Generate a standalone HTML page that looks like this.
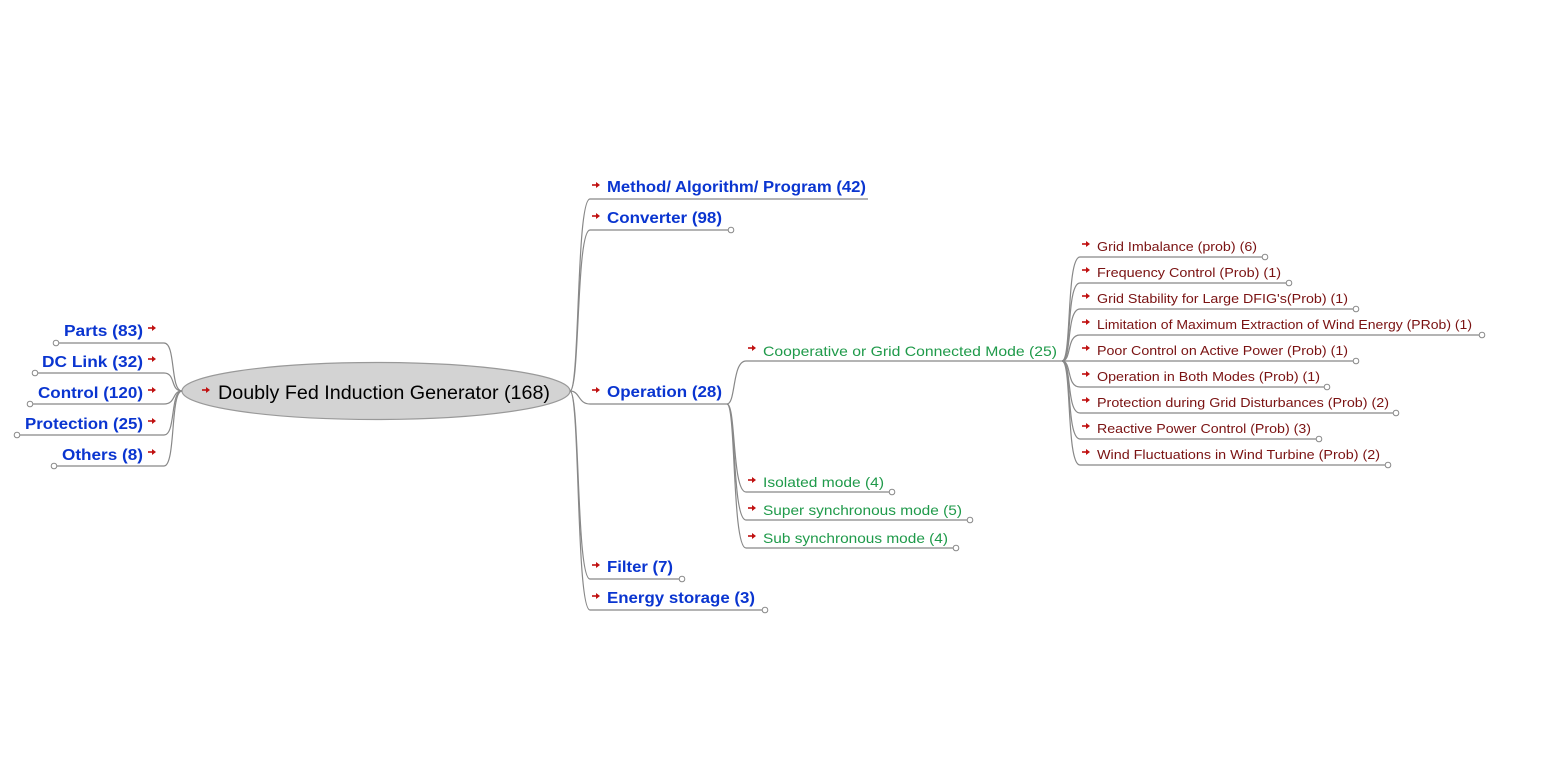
<!DOCTYPE html>
<html><head><meta charset="utf-8"><style>
html,body{margin:0;padding:0;background:#fff;}
svg{display:block;}
.b{font-family:"Liberation Sans",Arial,sans-serif;font-size:16px;font-weight:bold;fill:#0a35d0;}
.g{font-family:"Liberation Sans",Arial,sans-serif;font-size:14px;fill:#1f9a4a;}
.r{font-family:"Liberation Sans",Arial,sans-serif;font-size:13px;fill:#7a1212;}
.l{fill:none;stroke:#888;stroke-width:1.2;}
.c{fill:#fff;stroke:#888;stroke-width:1;}
</style></head><body>
<svg width="1554" height="764" viewBox="0 0 1554 764" xmlns="http://www.w3.org/2000/svg">
<defs>
<g id="ar"><path d="M0,0 H5" stroke="#c01010" stroke-width="1.6"/><path d="M4,-3 L8,0 L4,3 Z" fill="#c01010"/></g>
</defs>
<ellipse cx="376" cy="391" rx="194" ry="28.5" fill="#d3d3d3" stroke="#999" stroke-width="1.2"/>
<use href="#ar" x="202" y="390"/>
<text x="218" y="399" font-family="Liberation Sans, Arial, sans-serif" font-size="19" fill="#000" textLength="332" lengthAdjust="spacingAndGlyphs">Doubly Fed Induction Generator (168)</text>

<path class="l" d="M182,391 C170,391 176,343 164,343 L56,343"/>
<path class="l" d="M182,391 C170,391 176,373 164,373 L35,373"/>
<path class="l" d="M182,391 C172,391 176,404 164,404 L30,404"/>
<path class="l" d="M182,391 C170,391 176,435 164,435 L17,435"/>
<path class="l" d="M182,391 C170,391 176,466 164,466 L54,466"/>
<circle class="c" cx="56" cy="343" r="2.8"/>
<circle class="c" cx="35" cy="373" r="2.8"/>
<circle class="c" cx="30" cy="404" r="2.8"/>
<circle class="c" cx="17" cy="435" r="2.8"/>
<circle class="c" cx="54" cy="466" r="2.8"/>
<text class="b" x="64" y="336" textLength="79" lengthAdjust="spacingAndGlyphs">Parts (83)</text>
<text class="b" x="42" y="367" textLength="101" lengthAdjust="spacingAndGlyphs">DC Link (32)</text>
<text class="b" x="38" y="398" textLength="105" lengthAdjust="spacingAndGlyphs">Control (120)</text>
<text class="b" x="25" y="429" textLength="118" lengthAdjust="spacingAndGlyphs">Protection (25)</text>
<text class="b" x="62" y="460" textLength="81" lengthAdjust="spacingAndGlyphs">Others (8)</text>
<use href="#ar" x="148" y="328"/>
<use href="#ar" x="148" y="359"/>
<use href="#ar" x="148" y="390"/>
<use href="#ar" x="148" y="421"/>
<use href="#ar" x="148" y="452"/>

<path class="l" d="M570,391 C580,391 576,199 590,199 L868,199"/>
<path class="l" d="M570,391 C580,391 576,230 590,230 L731,230"/>
<path class="l" d="M570,391 C580,391 578,404 590,404 L727,404"/>
<path class="l" d="M570,391 C580,391 576,579 590,579 L682,579"/>
<path class="l" d="M570,391 C580,391 576,610 590,610 L765,610"/>
<circle class="c" cx="731" cy="230" r="2.8"/>
<circle class="c" cx="682" cy="579" r="2.8"/>
<circle class="c" cx="765" cy="610" r="2.8"/>
<text class="b" x="607" y="192" textLength="259" lengthAdjust="spacingAndGlyphs">Method/ Algorithm/ Program (42)</text>
<text class="b" x="607" y="223" textLength="115" lengthAdjust="spacingAndGlyphs">Converter (98)</text>
<text class="b" x="607" y="397" textLength="115" lengthAdjust="spacingAndGlyphs">Operation (28)</text>
<text class="b" x="607" y="572" textLength="66" lengthAdjust="spacingAndGlyphs">Filter (7)</text>
<text class="b" x="607" y="603" textLength="148" lengthAdjust="spacingAndGlyphs">Energy storage (3)</text>
<use href="#ar" x="592" y="185"/>
<use href="#ar" x="592" y="216"/>
<use href="#ar" x="592" y="390"/>
<use href="#ar" x="592" y="565"/>
<use href="#ar" x="592" y="596"/>

<path class="l" d="M727,404 C736,404 732,361 746,361 L1062,361"/>
<path class="l" d="M727,404 C736,404 732,492 746,492 L892,492"/>
<path class="l" d="M727,404 C736,404 732,520 746,520 L970,520"/>
<path class="l" d="M727,404 C736,404 732,548 746,548 L956,548"/>
<circle class="c" cx="892" cy="492" r="2.8"/>
<circle class="c" cx="970" cy="520" r="2.8"/>
<circle class="c" cx="956" cy="548" r="2.8"/>
<text class="g" x="763" y="356" textLength="294" lengthAdjust="spacingAndGlyphs">Cooperative or Grid Connected Mode (25)</text>
<text class="g" x="763" y="487" textLength="121" lengthAdjust="spacingAndGlyphs">Isolated mode (4)</text>
<text class="g" x="763" y="515" textLength="199" lengthAdjust="spacingAndGlyphs">Super synchronous mode (5)</text>
<text class="g" x="763" y="543" textLength="185" lengthAdjust="spacingAndGlyphs">Sub synchronous mode (4)</text>
<use href="#ar" x="748" y="348"/>
<use href="#ar" x="748" y="480"/>
<use href="#ar" x="748" y="508"/>
<use href="#ar" x="748" y="536"/>

<g>
<path class="l" d="M1062,361 C1072,361 1066,257 1080,257 L1265,257"/>
<path class="l" d="M1062,361 C1072,361 1066,283 1080,283 L1289,283"/>
<path class="l" d="M1062,361 C1072,361 1066,309 1080,309 L1356,309"/>
<path class="l" d="M1062,361 C1072,361 1066,335 1080,335 L1482,335"/>
<path class="l" d="M1062,361 L1356,361"/>
<path class="l" d="M1062,361 C1072,361 1066,387 1080,387 L1327,387"/>
<path class="l" d="M1062,361 C1072,361 1066,413 1080,413 L1396,413"/>
<path class="l" d="M1062,361 C1072,361 1066,439 1080,439 L1319,439"/>
<path class="l" d="M1062,361 C1072,361 1066,465 1080,465 L1388,465"/>
<circle class="c" cx="1265" cy="257" r="2.8"/>
<circle class="c" cx="1289" cy="283" r="2.8"/>
<circle class="c" cx="1356" cy="309" r="2.8"/>
<circle class="c" cx="1482" cy="335" r="2.8"/>
<circle class="c" cx="1356" cy="361" r="2.8"/>
<circle class="c" cx="1327" cy="387" r="2.8"/>
<circle class="c" cx="1396" cy="413" r="2.8"/>
<circle class="c" cx="1319" cy="439" r="2.8"/>
<circle class="c" cx="1388" cy="465" r="2.8"/>
<text class="r" x="1097" y="251" textLength="160" lengthAdjust="spacingAndGlyphs">Grid Imbalance (prob) (6)</text>
<text class="r" x="1097" y="277" textLength="184" lengthAdjust="spacingAndGlyphs">Frequency Control (Prob) (1)</text>
<text class="r" x="1097" y="303" textLength="251" lengthAdjust="spacingAndGlyphs">Grid Stability for Large DFIG's(Prob) (1)</text>
<text class="r" x="1097" y="329" textLength="375" lengthAdjust="spacingAndGlyphs">Limitation of Maximum Extraction of Wind Energy (PRob) (1)</text>
<text class="r" x="1097" y="355" textLength="251" lengthAdjust="spacingAndGlyphs">Poor Control on Active Power (Prob) (1)</text>
<text class="r" x="1097" y="381" textLength="223" lengthAdjust="spacingAndGlyphs">Operation in Both Modes (Prob) (1)</text>
<text class="r" x="1097" y="407" textLength="292" lengthAdjust="spacingAndGlyphs">Protection during Grid Disturbances (Prob) (2)</text>
<text class="r" x="1097" y="433" textLength="214" lengthAdjust="spacingAndGlyphs">Reactive Power Control (Prob) (3)</text>
<text class="r" x="1097" y="459" textLength="283" lengthAdjust="spacingAndGlyphs">Wind Fluctuations in Wind Turbine (Prob) (2)</text>
<use href="#ar" x="1082" y="244"/>
<use href="#ar" x="1082" y="270"/>
<use href="#ar" x="1082" y="296"/>
<use href="#ar" x="1082" y="322"/>
<use href="#ar" x="1082" y="348"/>
<use href="#ar" x="1082" y="374"/>
<use href="#ar" x="1082" y="400"/>
<use href="#ar" x="1082" y="426"/>
<use href="#ar" x="1082" y="452"/>
</g>
</svg>
</body></html>
